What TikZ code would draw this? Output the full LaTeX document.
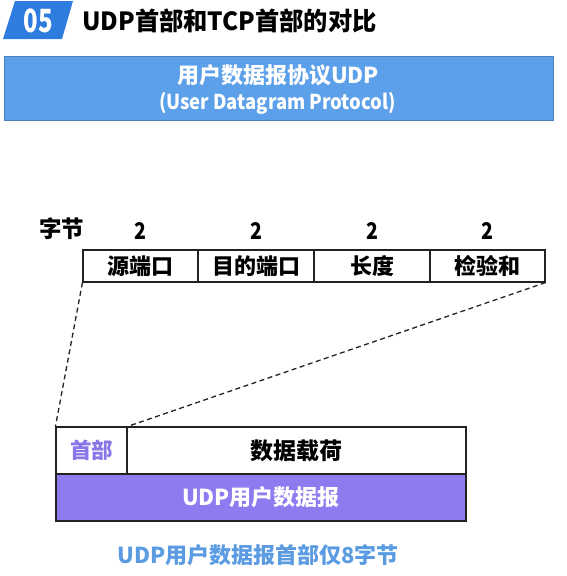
\documentclass[tikz,border=0pt]{standalone}
\usepackage{fontspec}
\setmainfont{Noto Sans CJK SC}
\usetikzlibrary{calc}
\definecolor{badgeblue}{HTML}{2E7DDE}
\definecolor{bannerfill}{HTML}{5CA0EA}
\definecolor{bannerline}{HTML}{4A7FC0}
\definecolor{udppurple}{HTML}{8C7CF0}
\definecolor{hdrpurple}{HTML}{8676E6}
\definecolor{capblue}{HTML}{5B9BE2}
\definecolor{boxline}{HTML}{222222}
\tikzset{
  cell/.style={draw=boxline, line width=1.1pt},
  celltext/.style={font=\fontsize{22}{24}\selectfont\bfseries, text=black, inner sep=0pt},
  bytenum/.style={font=\fontsize{23}{24}\selectfont\bfseries, text=black, inner sep=0pt, xscale=0.85},
  zoomline/.style={draw=boxline, line width=1.3pt, dash pattern=on 5pt off 3.5pt},
}
\begin{document}
\begin{tikzpicture}[x=1pt, y=-1pt]
\useasboundingbox (0,0) rectangle (567,576);

% section badge and heading
\fill[badgeblue] (15,1) -- (73,1) -- (62,39) -- (3,39) -- cycle;
\node[font=\fontsize{32}{34}\selectfont\bfseries, text=white, xscale=0.75, inner sep=0pt] (num) at (38.5,21) {05};
\node[font=\fontsize{25}{27}\selectfont\bfseries, anchor=west, inner sep=0pt, xscale=0.97] (title) at (82,21) {UDP首部和TCP首部的对比};

% protocol banner
\node[draw=bannerline, fill=bannerfill, line width=1pt, minimum width=549pt, minimum height=64pt, inner sep=0pt] (banner) at (278.5,88) {};
\node[font=\fontsize{22}{24}\selectfont\bfseries, text=white, inner sep=0pt] (bannerA) at (278,75) {用户数据报协议UDP};
\node[font=\fontsize{20.5}{24}\selectfont\bfseries, text=white, inner sep=0pt, xscale=0.9] (bannerB) at (277.5,103) {(User Datagram Protocol)};

% UDP header fields
\node[bytenum, xscale=1.15] (bytes) at (61.5,229) {字节};
\node[bytenum] (n1) at (140.5,231) {2};
\node[bytenum] (n2) at (256,231) {2};
\node[bytenum] (n3) at (372,231) {2};
\node[bytenum] (n4) at (487.5,231) {2};

\node[cell, minimum width=115pt, minimum height=32pt, inner sep=0pt] (f1) at (140.5,266) {};
\node[cell, minimum width=116pt, minimum height=32pt, inner sep=0pt] (f2) at (256,266) {};
\node[cell, minimum width=116pt, minimum height=32pt, inner sep=0pt] (f3) at (372,266) {};
\node[cell, minimum width=115pt, minimum height=32pt, inner sep=0pt] (f4) at (487.5,266) {};
\node[celltext] at (f1) {源端口};
\node[celltext] at (f2) {目的端口};
\node[celltext] at (f3) {长度};
\node[celltext] at (f4) {检验和};

% UDP datagram
\node[cell, fill=white, minimum width=71pt, minimum height=47pt, inner sep=0pt] (hdr) at (91.5,450.5) {};
\node[cell, fill=white, minimum width=339pt, minimum height=47pt, inner sep=0pt] (payload) at (296.5,450.5) {};
\node[cell, fill=udppurple, minimum width=410pt, minimum height=47pt, inner sep=0pt] (dgram) at (261,497.5) {};
\node[font=\fontsize{21.5}{24}\selectfont\bfseries, text=hdrpurple, inner sep=0pt] at (hdr) {首部};
\node[celltext, font=\fontsize{23}{24}\selectfont\bfseries] at (payload) {数据载荷};
\node[font=\fontsize{22}{24}\selectfont\bfseries, text=white, inner sep=0pt] at (dgram) {UDP用户数据报};

% header expanded into its fields
\draw[zoomline] (f1.south west) -- (hdr.north west);
\draw[zoomline] (f4.south east) -- (hdr.north east);

% caption
\node[font=\fontsize{22}{24}\selectfont\bfseries, text=capblue, inner sep=0pt] (cap) at (258,555) {UDP用户数据报首部仅8字节};
\end{tikzpicture}
\end{document}
